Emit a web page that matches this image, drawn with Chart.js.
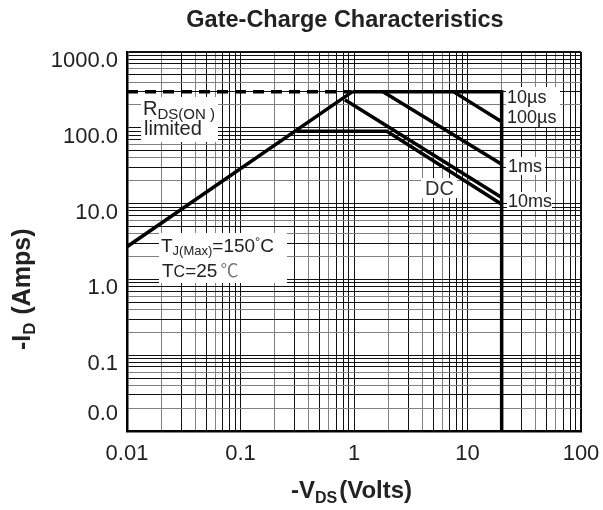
<!DOCTYPE html>
<html>
<head>
<meta charset="utf-8">
<title>Gate-Charge Characteristics</title>
<script src="https://cdn.jsdelivr.net/npm/chart.js@4.4.1/dist/chart.umd.min.js"></script>
<style>
  html, body { margin: 0; padding: 0; background: #fff; }
  #soa { display: block; }
</style>
</head>
<body>
<canvas id="soa" width="603" height="510"></canvas>
<script>
// Axis decades and the labels printed at them
const xTicks = [0.01, 0.1, 1, 10, 100];
const xLabels = ["0.01", "0.1", "1", "10", "100"];
const yTicks = [0.01, 0.1, 1, 10, 100, 1000];
const yLabels = ["0.0", "0.1", "1.0", "10.0", "100.0", "1000.0"];

// Safe operating area limits (-VDS volts, -ID amps)
const rdsV = [0.01, 0.97];
const rdsI = [2.7, 300];
const pulseV = [0.01, 0.95];
const pulseI = [300, 300];
const us10V = [0.97, 20, 20];
const us10I = [300, 300, 0.01];
const us100V = [7.5, 20];
const us100I = [300, 120];
const ms1V = [1.8, 20];
const ms1I = [300, 33];
const ms10V = [0.83, 20];
const ms10I = [235, 12];
const dcV = [0.31, 1.95, 20];
const dcI = [90, 90, 9.8];

const FONT = '"Liberation Sans", Arial, sans-serif';

// 1..9 x each decade, for the log grid
function gridValues(decades) {
    const vals = [];
    decades.forEach((d, i) => {
        if (i === decades.length - 1) {
            vals.push(d);
            return;
        }
        for (let k = 1; k <= 9; k++) {
            vals.push(+(d * k).toPrecision(3));
        }
    });
    return vals;
}

function significand(v) {
    const e = Math.floor(Math.log10(v) + 1e-9);
    return Math.round(v / Math.pow(10, e));
}

function gridColor(ctx) {
    const k = significand(ctx.tick.value);
    if (k === 2 || k === 4 || k === 6) return "#808080";
    return "#111";
}

function labelFor(value, ticks, labels) {
    const i = ticks.findIndex(t => Math.abs(t - value) / t < 1e-6);
    return i < 0 ? "" : labels[i];
}

function pts(vs, is) {
    return vs.map((v, i) => ({ x: v, y: is[i] }));
}

const solid = {
    borderColor: "#000",
    borderWidth: 3.5,
    pointRadius: 0,
    showLine: true,
    fill: false,
    tension: 0,
    borderCapStyle: "butt",
    borderJoinStyle: "miter"
};

// Draw a row of text pieces (used for subscripts)
function drawRuns(ctx, x, y, runs) {
    runs.forEach(r => {
        ctx.font = r.font;
        ctx.fillStyle = r.color || "#222";
        ctx.fillText(r.text, x, y + (r.dy || 0));
        x += ctx.measureText(r.text).width + (r.gap || 0);
    });
}

function whiteBox(ctx, x, y, w, h) {
    ctx.fillStyle = "#fff";
    ctx.fillRect(x, y, w, h);
}

const soaLabels = {
    id: "soaLabels",
    beforeDatasetsDraw(chart) {
        const ctx = chart.ctx;
        ctx.save();
        whiteBox(ctx, 141, 97, 77, 45);
        whiteBox(ctx, 159, 233, 128, 50);
        whiteBox(ctx, 506, 87, 54, 40);
        whiteBox(ctx, 506, 157, 39, 18);
        whiteBox(ctx, 507, 192, 45, 18);
        whiteBox(ctx, 421, 178, 36, 20);
        ctx.restore();
    },
    afterDatasetsDraw(chart) {
        const ctx = chart.ctx;
        ctx.save();
        ctx.textBaseline = "alphabetic";
        ctx.textAlign = "left";

        drawRuns(ctx, 143, 115, [
            { text: "R", font: "20px " + FONT },
            { text: "DS(ON )", font: "15px " + FONT, dy: 4 }
        ]);
        drawRuns(ctx, 144, 135, [{ text: "limited", font: "20px " + FONT }]);

        drawRuns(ctx, 161, 252, [
            { text: "T", font: "19px " + FONT },
            { text: "J(Max)", font: "13px " + FONT, dy: 3 },
            { text: "=150", font: "19px " + FONT },
            { text: "°", font: "13px " + FONT, dy: -6 },
            { text: "C", font: "19px " + FONT }
        ]);
        drawRuns(ctx, 162, 277, [
            { text: "T", font: "19px " + FONT },
            { text: "C", font: "16px " + FONT },
            { text: "=25", font: "19px " + FONT, gap: 3 },
            { text: "℃", font: '18px "Noto Sans CJK SC", ' + FONT, color: "#777" }
        ]);

        const small = "18px " + FONT;
        drawRuns(ctx, 507, 103, [{ text: "10µs", font: small }]);
        drawRuns(ctx, 507, 123, [{ text: "100µs", font: small }]);
        drawRuns(ctx, 508, 172, [{ text: "1ms", font: small }]);
        drawRuns(ctx, 508, 207, [{ text: "10ms", font: small }]);
        drawRuns(ctx, 425, 195, [{ text: "DC", font: "20px " + FONT, color: "#333" }]);
        ctx.restore();
    },
    afterDraw(chart) {
        const ctx = chart.ctx;
        ctx.save();
        ctx.textBaseline = "alphabetic";

        ctx.font = "bold 23.5px " + FONT;
        ctx.fillStyle = "#222";
        ctx.textAlign = "center";
        ctx.fillText("Gate-Charge Characteristics", 345, 27);

        ctx.textAlign = "left";
        drawRuns(ctx, 291, 498, [
            { text: "-V", font: "bold 24px " + FONT },
            { text: "DS", font: "bold 16px " + FONT, dy: 5, gap: 2 },
            { text: "(Volts)", font: "bold 24px " + FONT }
        ]);

        ctx.translate(30, 350);
        ctx.rotate(-Math.PI / 2);
        drawRuns(ctx, 0, 0, [
            { text: "-I", font: "bold 25px " + FONT },
            { text: "D", font: "bold 17px " + FONT, dy: 5, gap: 1 },
            { text: " (Amps)", font: "bold 25px " + FONT }
        ]);
        ctx.restore();
    }
};

const ctx = document.getElementById("soa").getContext("2d");

new Chart(ctx, {
    type: "scatter",
    data: {
        datasets: [
            { ...solid, data: pts(rdsV, rdsI) },
            { ...solid, data: pts(pulseV, pulseI), borderDash: [11, 7] },
            { ...solid, data: pts(us10V, us10I) },
            { ...solid, data: pts(us100V, us100I) },
            { ...solid, data: pts(ms1V, ms1I) },
            { ...solid, data: pts(ms10V, ms10I) },
            { ...solid, data: pts(dcV, dcI) }
        ]
    },
    options: {
        responsive: false,
        animation: false,
        devicePixelRatio: 1,
        layout: { padding: { top: 52, right: 22, bottom: 0, left: 0 } },
        plugins: {
            legend: { display: false },
            tooltip: { enabled: false }
        },
        scales: {
            x: {
                type: "logarithmic",
                position: "bottom",
                min: 0.01,
                max: 100,
                afterBuildTicks: axis => {
                    axis.ticks = gridValues(xTicks).map(v => ({ value: v }));
                },
                afterFit: axis => {
                    axis.height = 79;
                    axis.paddingLeft = 0;
                    axis.paddingRight = 0;
                },
                ticks: {
                    autoSkip: false,
                    maxRotation: 0,
                    minRotation: 0,
                    padding: 10,
                    color: "#222",
                    font: { family: FONT, size: 22 },
                    callback: value => labelFor(value, xTicks, xLabels)
                },
                grid: {
                    drawTicks: false,
                    color: gridColor,
                    lineWidth: ctx => (ctx.tick.value === 100 ? 2 : 1)
                },
                border: { display: true, color: "#000", width: 2.5 }
            },
            y: {
                type: "logarithmic",
                min: 0.01,
                max: 1000,
                afterBuildTicks: axis => {
                    axis.ticks = gridValues(yTicks).map(v => ({ value: v }));
                },
                afterFit: axis => {
                    axis.width = 127;
                    axis.paddingTop = 0;
                    axis.paddingBottom = 0;
                },
                ticks: {
                    autoSkip: false,
                    padding: 9,
                    labelOffset: 9,
                    color: "#222",
                    font: { family: FONT, size: 22 },
                    callback: value => {
                        const label = labelFor(value, yTicks, yLabels);
                        // bottom label sits higher than its grid line
                        return value === 0.01 ? [label, "", ""] : label;
                    }
                },
                grid: {
                    drawTicks: false,
                    color: gridColor,
                    lineWidth: ctx => (ctx.tick.value === 1000 ? 2 : 1)
                },
                border: { display: true, color: "#000", width: 2.5 }
            }
        }
    },
    plugins: [soaLabels]
});
</script>
</body>
</html>
